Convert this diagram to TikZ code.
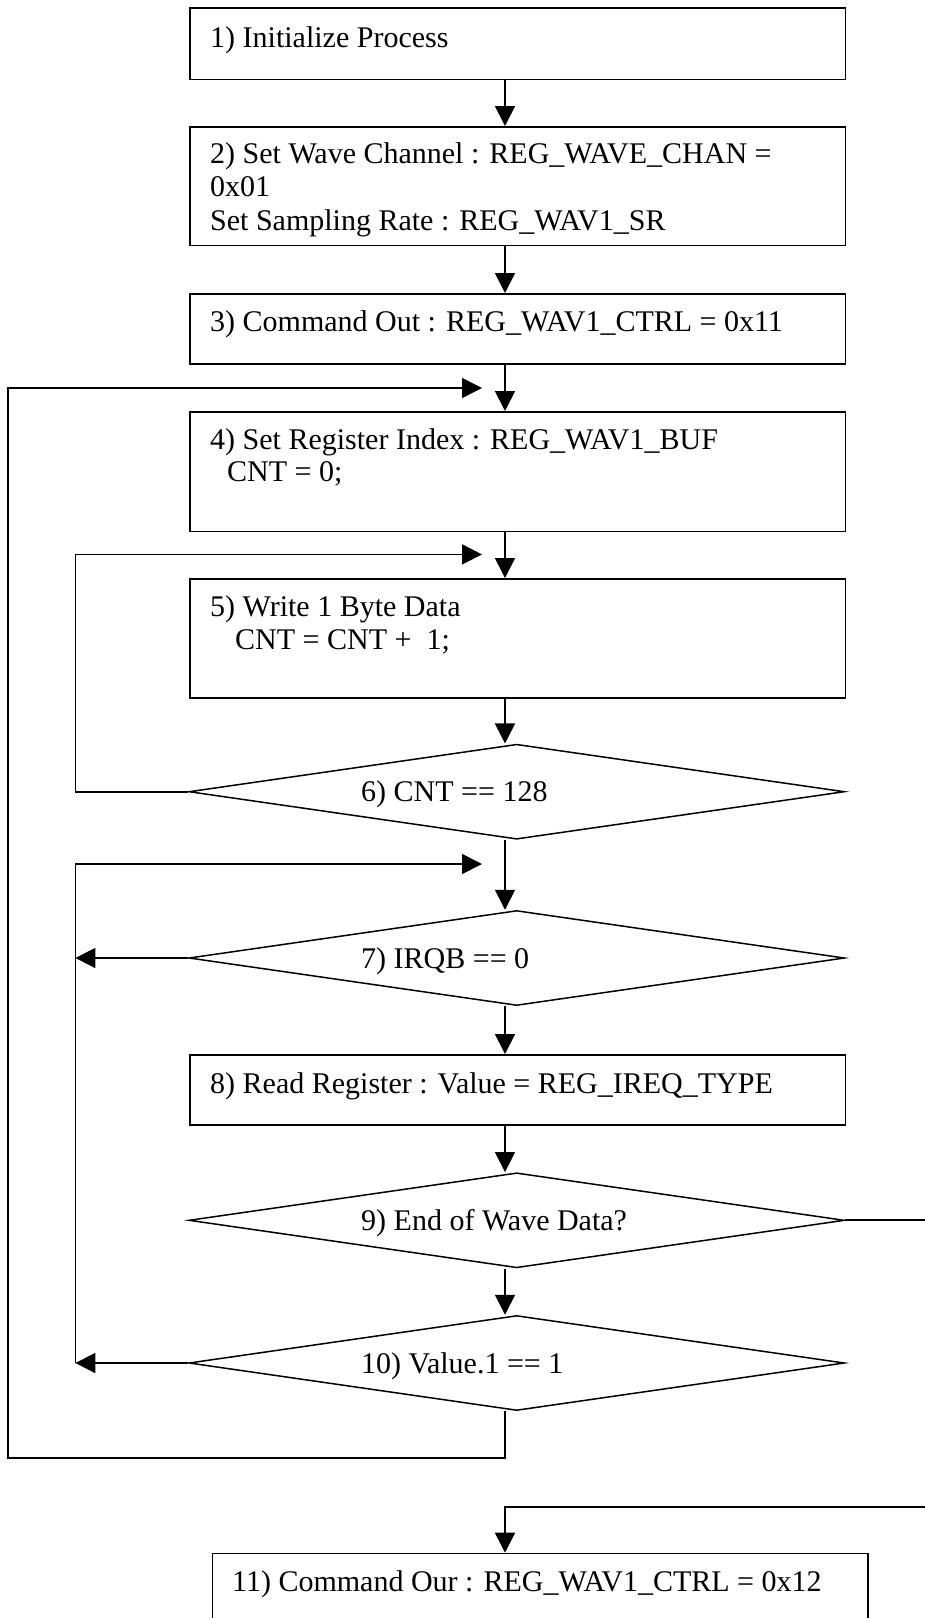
\documentclass[tikz,border=0pt]{standalone}
\usepackage{fontspec}
\setmainfont{Liberation Serif}
\usetikzlibrary{shapes.geometric,arrows.meta}
\begin{document}
\begin{tikzpicture}[x=1pt,y=-1pt,
  stepbox/.style={draw,line width=1.7pt,inner sep=0pt,anchor=north west,minimum width=655.5pt},
  decision/.style={draw,diamond,line width=1.5pt,inner sep=0pt,minimum width=655.5pt,minimum height=95pt},
  txt/.style={anchor=base west,inner sep=0pt,font=\fontsize{30}{34}\selectfont},
  flow/.style={line width=1.7pt},
  arr/.style={flow,-{Triangle[length=20pt,width=20pt]}}]
\useasboundingbox (0,0) rectangle (925,1618);
\clip (0,0) rectangle (925,1618);

% main column of steps
\node[stepbox,minimum height=71.3pt]  (b1) at (189,7.2) {};
\node[stepbox,minimum height=118.7pt] (b2) at (189,126) {};
\node[stepbox,minimum height=70.4pt]  (b3) at (189,293) {};
\node[stepbox,minimum height=119.6pt] (b4) at (189,411) {};
\node[stepbox,minimum height=119pt]   (b5) at (189,578) {};
\node[decision] (d6) at (516.7,791.7) {};
\node[decision] (d7) at (516.7,958) {};
\node[stepbox,minimum height=70pt]    (b8) at (189,1054) {};
\node[decision] (d9) at (516.7,1220.3) {};
\node[decision] (d10) at (516.7,1363) {};
\node[stepbox,minimum height=120pt,minimum width=655.7pt] (b11) at (211.6,1552.7) {};

% texts
\node[txt] (t1)  at (210,47.5)  {1) Initialize Process};
\node[txt] (t2a) at (210,163)   {2) Set Wave Channel : REG\_WAVE\_CHAN =};
\node[txt] (t2b) at (210,196.5) {0x01};
\node[txt] (t2c) at (210,230)   {Set Sampling Rate : REG\_WAV1\_SR};
\node[txt] (t3)  at (210,331.5) {3) Command Out : REG\_WAV1\_CTRL = 0x11};
\node[txt] (t4a) at (210,449.5) {4) Set Register Index : REG\_WAV1\_BUF};
\node[txt] (t4b) at (227,481.5) {CNT = 0;};
\node[txt] (t5a) at (210,616)   {5) Write 1 Byte Data};
\node[txt] (t5b) at (235,649)   {CNT = CNT +\ \ 1;};
\node[txt] (t6)  at (361,801.5) {6) CNT == 128};
\node[txt] (t7)  at (361,968)   {7) IRQB == 0};
\node[txt] (t8)  at (210,1093)  {8) Read Register : Value = REG\_IREQ\_TYPE};
\node[txt] (t9)  at (361,1230)  {9) End of Wave Data?};
\node[txt] (t10) at (361,1373)  {10) Value.1 == 1};
\node[txt] (t11) at (232,1591.5){11) Command Our : REG\_WAV1\_CTRL = 0x12};

% helper coordinates for the connector column and loop rails
\coordinate (ax) at (505,0);
\coordinate (outerx) at (8,0);
\coordinate (innerx) at (75.4,0);
\coordinate (farx) at (940,0);
\coordinate (loopA) at (482,388);
\coordinate (loopB) at (482,554.4);
\coordinate (loopC) at (482,864);
\coordinate (exitB) at (505,1457.8);
\coordinate (exitR) at (505,1507);

% straight-down connectors
\draw[arr] (b1.south -| ax) -- (b2.north -| ax);
\draw[arr] (b2.south -| ax) -- (b3.north -| ax);
\draw[arr] (b3.south -| ax) -- (b4.north -| ax);
\draw[arr] (b4.south -| ax) -- (b5.north -| ax);
\draw[arr] (b5.south -| ax) -- (d6.north -| ax);
\draw[arr] (d6.south -| ax) -- (d7.north -| ax);
\draw[arr] (d7.south -| ax) -- (b8.north -| ax);
\draw[arr] (b8.south -| ax) -- (d9.north -| ax);
\draw[arr] (d9.south -| ax) -- (d10.north -| ax);

% loop back from 6) to 5)
\draw[arr] (d6.west) -- (d6.west -| innerx) |- (loopB);
% wait loop for 7) and 10)
\draw[arr] (d7.west) -- (d7.west -| innerx);
\draw[arr] (d10.west) -- (d10.west -| innerx);
\draw[arr] (d10.west -| innerx) -- (loopC -| innerx) -- (loopC);
% outer loop from 10) back to 4)
\draw[arr] (d10.south -| ax) -- (exitB) -- (exitB -| outerx) |- (loopA);
% exit from 9) to 11)
\draw[arr] (d9.east) -- (d9.east -| farx) |- (exitR) -- (b11.north -| ax);
\end{tikzpicture}
\end{document}
